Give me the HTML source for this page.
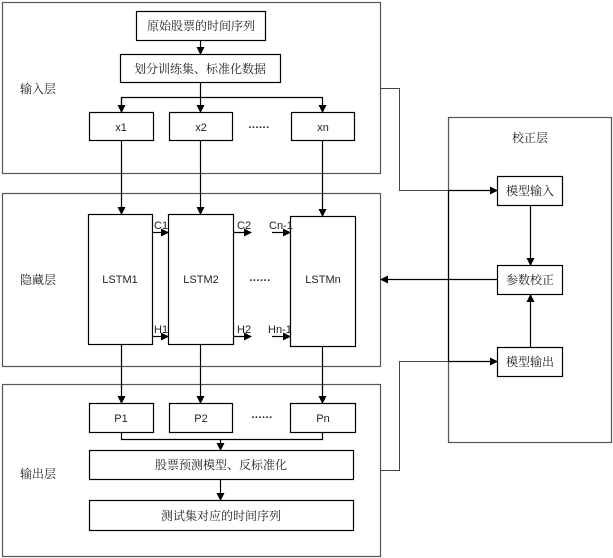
<!DOCTYPE html>
<html><head><meta charset="utf-8"><style>
html,body{margin:0;padding:0;background:#fff;}
svg{display:block;}
text{font-family:"Noto Serif CJK SC","Liberation Serif",serif;font-size:12px;fill:#222;}
.s{font-family:"Liberation Sans","Noto Sans CJK SC",sans-serif;font-size:11px;}
.d{font-family:"Liberation Sans",sans-serif;font-size:11px;font-weight:bold;letter-spacing:0.5px;}
</style></head><body>
<svg width="613" height="558" viewBox="0 0 613 558" xmlns="http://www.w3.org/2000/svg">
<defs><marker id="a" markerWidth="8" markerHeight="8" refX="7" refY="4" orient="auto" markerUnits="userSpaceOnUse"><path d="M0,0 L8,4 L0,8 z" fill="#000"/></marker></defs>
<g fill="none" stroke="#555" stroke-width="1.2">
<rect x="2.5" y="2.5" width="378" height="171"/>
<rect x="2.5" y="193.5" width="378" height="173"/>
<rect x="2.5" y="384.5" width="378" height="172"/>
<rect x="448.5" y="117.5" width="163" height="325"/>
</g>
<g fill="#fff" stroke="#000" stroke-width="1.2">
<rect x="136.5" y="11.5" width="129" height="29"/>
<rect x="120.5" y="54.5" width="160" height="28"/>
<rect x="89.5" y="112.5" width="64" height="28"/>
<rect x="169.5" y="112.5" width="63" height="28"/>
<rect x="291.5" y="112.5" width="63" height="28"/>
<rect x="88.5" y="214.5" width="64" height="130"/>
<rect x="168.5" y="214.5" width="65" height="130"/>
<rect x="290.5" y="216.5" width="65" height="130"/>
<rect x="89.5" y="403.5" width="64" height="29"/>
<rect x="169.5" y="403.5" width="63" height="29"/>
<rect x="290.5" y="403.5" width="65" height="29"/>
<rect x="89.5" y="450.5" width="264" height="29"/>
<rect x="89.5" y="500.5" width="264" height="30"/>
<rect x="497.5" y="176.5" width="65" height="29"/>
<rect x="497.5" y="265.5" width="65" height="29"/>
<rect x="497.5" y="347.5" width="65" height="29"/>
</g>
<g fill="none" stroke="#000" stroke-width="1.2">
<line x1="200.5" y1="40" x2="200.5" y2="54" marker-end="url(#a)"/>
<line x1="200.5" y1="82" x2="200.5" y2="112" marker-end="url(#a)"/>
<polyline points="121.5,112 121.5,97.5 322.5,97.5 322.5,112" marker-end="url(#a)"/>
<line x1="121.5" y1="97.5" x2="121.5" y2="112" marker-end="url(#a)"/>
<line x1="121.5" y1="140" x2="121.5" y2="214" marker-end="url(#a)"/>
<line x1="200.5" y1="140" x2="200.5" y2="214" marker-end="url(#a)"/>
<line x1="322.5" y1="140" x2="322.5" y2="216" marker-end="url(#a)"/>
<line x1="152" y1="232.5" x2="168" y2="232.5" marker-end="url(#a)"/>
<line x1="152" y1="336.5" x2="168" y2="336.5" marker-end="url(#a)"/>
<line x1="233" y1="232.5" x2="251" y2="232.5" marker-end="url(#a)"/>
<line x1="233" y1="336.5" x2="251" y2="336.5" marker-end="url(#a)"/>
<line x1="272" y1="232.5" x2="290" y2="232.5" marker-end="url(#a)"/>
<line x1="272" y1="336.5" x2="290" y2="336.5" marker-end="url(#a)"/>
<line x1="121.5" y1="344" x2="121.5" y2="403" marker-end="url(#a)"/>
<line x1="200.5" y1="344" x2="200.5" y2="403" marker-end="url(#a)"/>
<line x1="322.5" y1="346" x2="322.5" y2="403" marker-end="url(#a)"/>
<polyline points="121.5,432 121.5,439.5 322.5,439.5 322.5,432"/>
<line x1="220.5" y1="439" x2="220.5" y2="450" marker-end="url(#a)"/>
<line x1="220.5" y1="479" x2="220.5" y2="500" marker-end="url(#a)"/>
<line x1="448.5" y1="190.5" x2="448.5" y2="361.5"/>
<line x1="448" y1="190.5" x2="497" y2="190.5" marker-end="url(#a)"/>
<line x1="448" y1="361.5" x2="497" y2="361.5" marker-end="url(#a)"/>
<line x1="530.5" y1="205" x2="530.5" y2="265" marker-end="url(#a)"/>
<line x1="530.5" y1="347" x2="530.5" y2="295" marker-end="url(#a)"/>
<line x1="497" y1="279.5" x2="381" y2="279.5" marker-end="url(#a)"/>
</g>
<g fill="none" stroke="#444" stroke-width="1">
<polyline points="380,88.5 399.5,88.5 399.5,190.5 448,190.5"/>
<polyline points="380,470.5 399.5,470.5 399.5,361.5 448,361.5"/>
</g>
<g text-anchor="middle">
<text x="201" y="30">原始股票的时间序列</text>
<text x="200" y="73">划分训练集、标准化数据</text>
<text class="s" x="121" y="131">x1</text>
<text class="s" x="201" y="131">x2</text>
<text class="s" x="323" y="131">xn</text>
<text class="d" x="259" y="128">......</text>
<text class="s" x="120" y="283">LSTM1</text>
<text class="s" x="201" y="283">LSTM2</text>
<text class="s" x="323" y="283">LSTMn</text>
<text class="d" x="260" y="281">......</text>
<text class="s" x="121" y="422">P1</text>
<text class="s" x="201" y="422">P2</text>
<text class="s" x="323" y="422">Pn</text>
<text class="d" x="262" y="418">......</text>
<text x="221" y="469">股票预测模型、反标准化</text>
<text x="221" y="520">测试集对应的时间序列</text>
<text x="530" y="142">校正层</text>
<text x="530" y="195">模型输入</text>
<text x="530" y="284">参数校正</text>
<text x="530" y="366">模型输出</text>
</g>
<text x="20" y="93">输入层</text>
<text x="20" y="284">隐藏层</text>
<text x="20" y="478">输出层</text>
<text class="s" x="154" y="229">C1</text>
<text class="s" x="154" y="333">H1</text>
<text class="s" x="237" y="229">C2</text>
<text class="s" x="237" y="333">H2</text>
<text class="s" x="269" y="229">Cn-1</text>
<text class="s" x="268" y="333">Hn-1</text>
</svg>
</body></html>
